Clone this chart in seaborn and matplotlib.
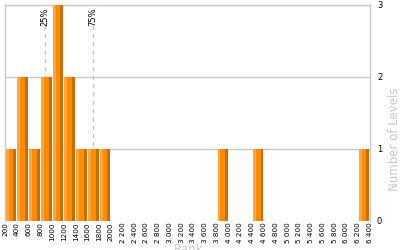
import matplotlib
matplotlib.use("Agg")
import matplotlib.pyplot as plt
import seaborn as sns
import numpy as np
import pandas as pd

bin_starts = [200, 400, 600, 800, 1000, 1200, 1400, 1600, 1800, 3800, 4400, 6200]
counts = [1, 2, 1, 2, 3, 2, 1, 1, 1, 1, 1, 1]
tick_values = list(range(200, 6401, 200))
tick_labels = [str(v) if v <= 2000 else f"{v // 1000} {v % 1000:03d}" for v in tick_values]
quartile_names = ["25%", "75%"]
quartile_values = [880, 1690]
y_ticks = [0, 1, 2, 3]

BIN = 200
sns.set_theme(style="white")
plt.rcParams['font.family'] = ['DejaVu Sans']

fig = plt.figure(figsize=(4, 2.5), dpi=100)
ax = fig.add_axes([0.0125, 0.116, 0.9125, 0.864])

df = pd.DataFrame({"center": np.array(bin_starts) + BIN / 2, "count": counts})

# percentile lines (behind bars)
for name, v in zip(quartile_names, quartile_values):
    ax.axvline(v, color="#c4c4c4", lw=1, ls=(0, (3, 3)), zorder=1)
    ax.text(v, 2.97, name, rotation=90, ha="center", va="top", fontsize=6,
            color="black", zorder=2,
            bbox=dict(facecolor="white", edgecolor="none", pad=0.5))

for y in [1, 2, 3]:
    ax.axhline(y, color="#c8c8c8", lw=1, zorder=0.5)

sns.barplot(data=df, x="center", y="count", native_scale=True, width=0.9,
            color="#ff8c00", saturation=1, ax=ax, zorder=3, edgecolor="none")

starts = np.array(bin_starts, dtype=float)
ax.bar(starts + 10, counts, width=50, align="edge", color="#ffa640",
       edgecolor="none", zorder=4)
ax.bar(starts + 140, counts, width=50, align="edge", color="#c86e00",
       edgecolor="none", zorder=4)

ax.set_xlim(200, 6400)
ax.set_ylim(0, 3)
ax.set_xticks(tick_values)
ax.set_xticklabels(tick_labels, rotation=90, fontsize=5.2, color="black")
ax.tick_params(axis="x", length=0, pad=1)

ax.yaxis.tick_right()
ax.yaxis.set_label_position("right")
ax.set_yticks(y_ticks)
ax.set_yticklabels([str(v) for v in y_ticks], fontsize=6, color="black")
ax.tick_params(axis="y", length=0, pad=5)
ax.set_ylabel("Number of Levels", color="#c8c8c8", fontsize=8.5)
ax.yaxis.set_label_coords(1.05, 0.38)
ax.set_xlabel("Rank", color="#c8c8c8", fontsize=8.5)
ax.xaxis.set_label_coords(0.504, -0.1)
ax.xaxis.label.set_va("top")

for s in ["left", "right", "top"]:
    ax.spines[s].set_color("#c8c8c8")
    ax.spines[s].set_linewidth(1)
ax.spines["bottom"].set_visible(False)

fig.savefig("out.png", dpi=100)
